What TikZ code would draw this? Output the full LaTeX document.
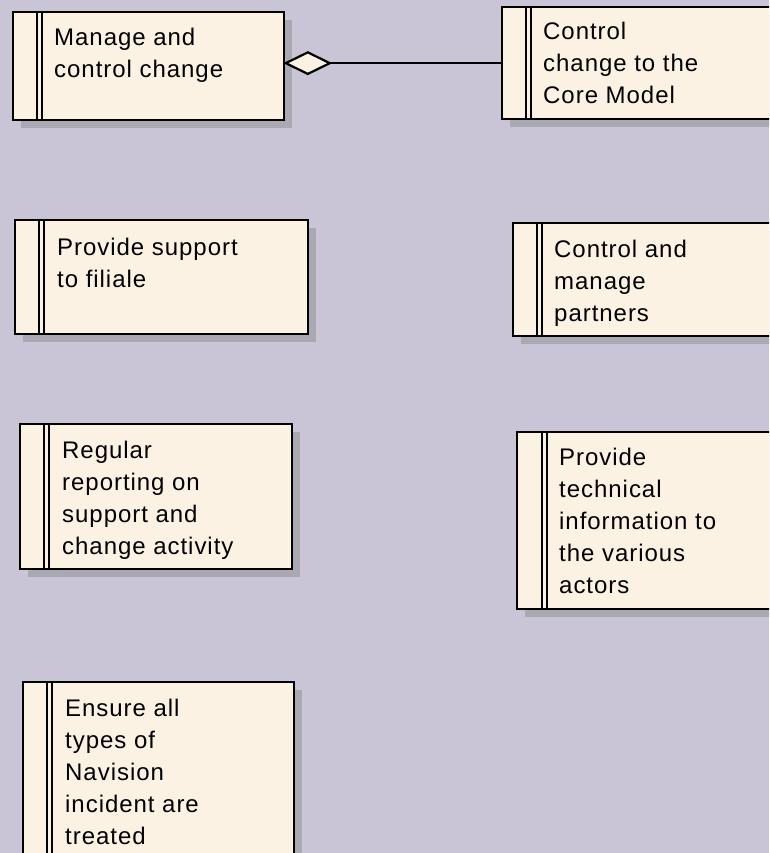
\documentclass[tikz,border=0pt]{standalone}
\usepackage{fontspec}
\setmainfont{Liberation Sans}[LetterSpace=4]
\usetikzlibrary{arrows.meta,shadows}
\definecolor{bgc}{RGB}{201,196,214}
\definecolor{cream}{RGB}{252,242,228}
\definecolor{shade}{RGB}{170,168,178}
\tikzset{
  box/.style={draw=black, line width=2.3pt, fill=cream, rectangle, inner sep=0pt, anchor=north west,
    drop shadow={shadow xshift=8pt, shadow yshift=-8pt, fill=shade, opacity=1}},
  dbl/.style={draw=black, line width=2pt},
  txt/.style={anchor=base west, inner sep=0pt, font=\fontsize{24}{32}\selectfont},
  link/.style={draw=black, line width=2.2pt}
}
\newcommand{\lines}[1]{\begin{tabular}[t]{@{}l@{}}#1\end{tabular}}
\begin{document}
\begin{tikzpicture}[x=1pt,y=-1pt]
\useasboundingbox (0,0) rectangle (769,853);
\clip (0,0) rectangle (769,853);
\fill[bgc] (0,0) rectangle (769,853);

% boxes
\node[box, minimum width=271pt, minimum height=108pt] (b1) at (12,11) {};
\node[box, minimum width=280pt, minimum height=112pt] (b2) at (501,6) {};
\node[box, minimum width=293pt, minimum height=114pt] (b3) at (14,219) {};
\node[box, minimum width=270pt, minimum height=113pt] (b4) at (512,222) {};
\node[box, minimum width=272pt, minimum height=145pt] (b5) at (19,423) {};
\node[box, minimum width=265pt, minimum height=177pt] (b6) at (516,431) {};
\node[box, minimum width=271pt, minimum height=200pt] (b7) at (22,681) {};

% double bars
\foreach \b/\o in {b1/25, b2/25, b3/25, b4/25, b5/25, b6/26, b7/25}{
  \draw[dbl] ([xshift=\o pt]\b.north west) -- ([xshift=\o pt]\b.south west);
  \draw[dbl] ([xshift=\o pt+4.5pt]\b.north west) -- ([xshift=\o pt+4.5pt]\b.south west);
}

% texts
\node[txt] (t1) at (54,46) {\lines{Manage and\\control change}};
\node[txt] (t2) at (543,40) {\lines{Control\\change to the\\Core Model}};
\node[txt] (t3) at (57,255) {\lines{Provide support\\to filiale}};
\node[txt] (t4) at (554,257) {\lines{Control and\\manage\\partners}};
\node[txt] (t5) at (62,458) {\lines{Regular\\reporting on\\support and\\change activity}};
\node[txt] (t6) at (559,465) {\lines{Provide\\technical\\information to\\the various\\actors}};
\node[txt] (t7) at (65,716) {\lines{Ensure all\\types of\\Navision\\incident are\\treated}};

% aggregation connector
\draw[link, {Diamond[length=49pt,width=24pt,fill=cream,line width=2.2pt]}-]
  ([xshift=-2pt]b2.west -| b1.east) -- (b2.west);
\end{tikzpicture}
\end{document}
